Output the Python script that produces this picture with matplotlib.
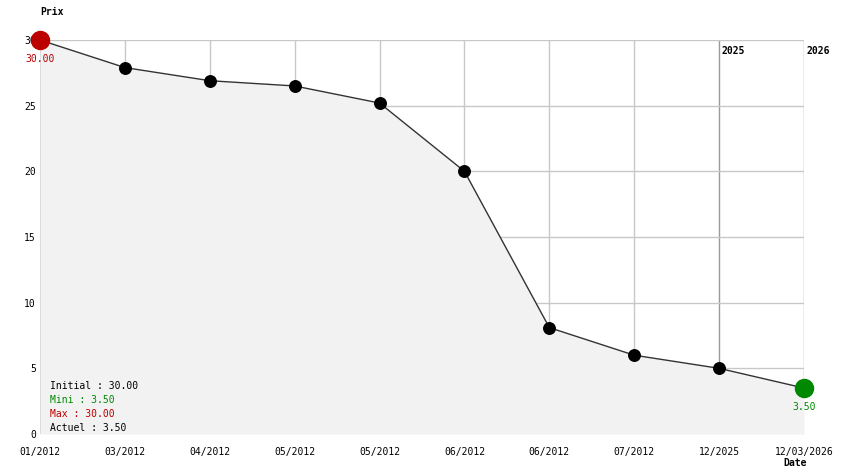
import matplotlib
matplotlib.use("Agg")
import matplotlib.pyplot as plt

# === DONNEES ===
dates = ["01/2012", "03/2012", "04/2012", "05/2012", "05/2012",
         "06/2012", "06/2012", "07/2012", "12/2025", "12/03/2026"]
prix = [30.0, 27.9, 26.9, 26.5, 25.2, 20.0, 8.1, 6.0, 5.0, 3.5]
annees = ["2025", "2026"]
annees_idx = [8, 9]
legende = ["Initial : 30.00", "Mini : 3.50", "Max : 30.00", "Actuel : 3.50"]
legende_couleurs = ["#000000", "#008800", "#bb0000", "#000000"]

plt.rcParams["font.family"] = ["DejaVu Sans Mono"]
W, H = 844, 474
fig = plt.figure(figsize=(W / 100, H / 100), dpi=100)
ax = fig.add_axes([40 / W, (H - 434) / H, 764 / W, 394 / H])

x = list(range(len(prix)))
ax.set_xlim(0, len(prix) - 1)
ax.set_ylim(0, 30)

# grille
for i in x:
    c = "#999999" if i in annees_idx else "#c8c8c8"
    ax.axvline(i, color=c, lw=1, zorder=1)
for v in [5, 10, 15, 20, 25, 30]:
    ax.axhline(v, color="#c8c8c8", lw=1, zorder=1)

# zone remplie + courbe
ax.fill_between(x, prix, 0, color="#f2f2f2", zorder=2, lw=0)
ax.plot(x, prix, color="#333333", lw=1, zorder=3)
ax.plot(x[1:-1], prix[1:-1], "o", color="black", ms=8.3, zorder=4)
ax.plot(x[0], prix[0], "o", color="#bb0000", ms=13, zorder=5, clip_on=False)
ax.plot(x[-1], prix[-1], "o", color="#008800", ms=13, zorder=5, clip_on=False)

ax.annotate("%.2f" % prix[0], (x[0], prix[0]), xytext=(0, -14), textcoords="offset points",
            ha="center", va="center", color="#bb0000", fontsize=7, annotation_clip=False)
ax.annotate("%.2f" % prix[-1], (x[-1], prix[-1]), xytext=(0, -14), textcoords="offset points",
            ha="center", va="center", color="#008800", fontsize=7, annotation_clip=False)

# annees
for a, i in zip(annees, annees_idx):
    ax.annotate(a, (i, 30), xytext=(2, -8), textcoords="offset points",
                ha="left", va="center", fontsize=7, fontweight="bold", annotation_clip=False)

# legende
for k, (t, c) in enumerate(zip(legende, legende_couleurs)):
    ax.text(10 / 764, (48 - k * 14) / 394, t, transform=ax.transAxes,
            ha="left", va="center", color=c, fontsize=7, zorder=6)

# axes
ax.set_xticks(x)
ax.set_xticklabels(dates, fontsize=7)
ax.set_yticks([0, 5, 10, 15, 20, 25, 30])
ax.set_yticklabels(["0", "5", "10", "15", "20", "25", "30"], fontsize=7)
ax.tick_params(length=0)
ax.tick_params(axis="x", pad=9)
ax.tick_params(axis="y", pad=3)
for s in ax.spines.values():
    s.set_visible(False)

fig.text(40 / W, 1 - 12 / H, "Prix", fontsize=7, fontweight="bold", ha="left", va="center")
fig.text(783 / W, 1 - 463 / H, "Date", fontsize=7, fontweight="bold", ha="left", va="center")

fig.savefig("out.png", dpi=100, facecolor="white")
